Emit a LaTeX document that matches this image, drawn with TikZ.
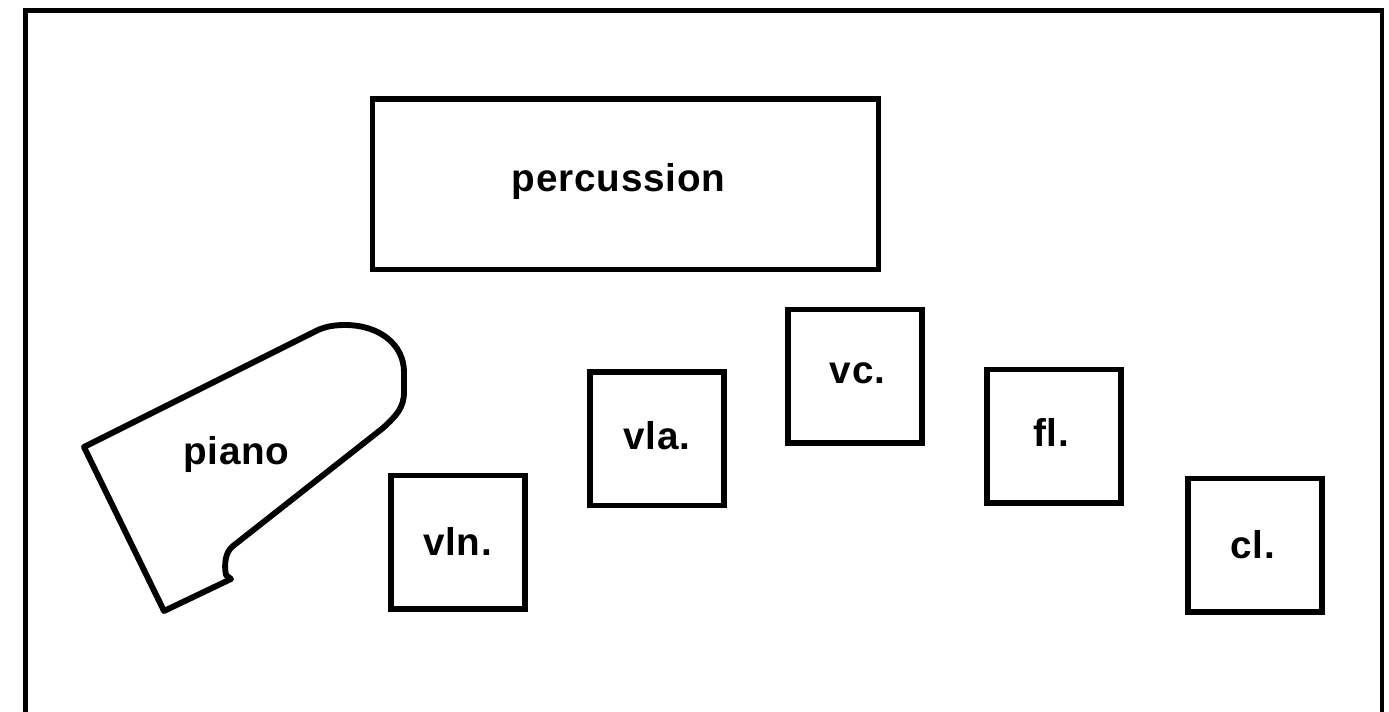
\documentclass[tikz,border=0pt]{standalone}
\usepackage{fontspec}
\newfontfamily\labfont[LetterSpace=2]{Liberation Sans}
\begin{document}
\begin{tikzpicture}[x=0.75pt,y=-0.75pt,
  frame/.style={line width=3.6pt},
  stand/.style={draw, line width=4.2pt, rectangle, inner sep=0pt, outer sep=0pt},
  seat/.style={stand, minimum width=100.5pt, minimum height=100pt},
  piano shape/.style={line width=4.4pt, line join=round},
  lab/.style={anchor=base, inner sep=0pt, font=\labfont\bfseries\fontsize{29}{34}\selectfont}]
\useasboundingbox (0,0) rectangle (1389,711);
\fill[white] (0,0) rectangle (1389,711);

% stage outline, open at the bottom
\draw[frame] (25.5,716) -- (25.5,10.5) -- (1382,10.5) -- (1382,716);

% percussion area
\node[stand, minimum width=379.5pt, minimum height=128pt] (perc) at (625.5,184.2) {};
\node[lab] (perclab) at (618.5,191.5) {percussion};

% grand piano
\draw[piano shape] (84,447) -- (164,611) -- (231,579) -- (226,575)
  .. controls (224,565) and (225,552) .. (233,546) -- (383,428)
  .. controls (396,416) and (404,408) .. (404,392) -- (404,372)
  .. controls (404,345) and (380,325) .. (345,325)
  .. controls (336,325) and (327,326) .. (318,330) -- cycle;
\node[lab] (pianolab) at (236.5,464) {piano};

% players
\node[seat] (vln) at (458,542.3) {};
\node[lab] (vlnlab) at (457.5,555) {vln.};
\node[seat] (vla) at (656.7,438.8) {};
\node[lab] (vlalab) at (656.7,449.3) {vla.};
\node[seat] (vc) at (855,376.3) {};
\node[lab] (vclab) at (857.5,383.3) {vc.};
\node[seat] (fl) at (1053.7,436.3) {};
\node[lab] (fllab) at (1051,446) {fl.};
\node[seat] (cl) at (1254.7,545.3) {};
\node[lab] (cllab) at (1252.5,558.3) {cl.};
\end{tikzpicture}
\end{document}
